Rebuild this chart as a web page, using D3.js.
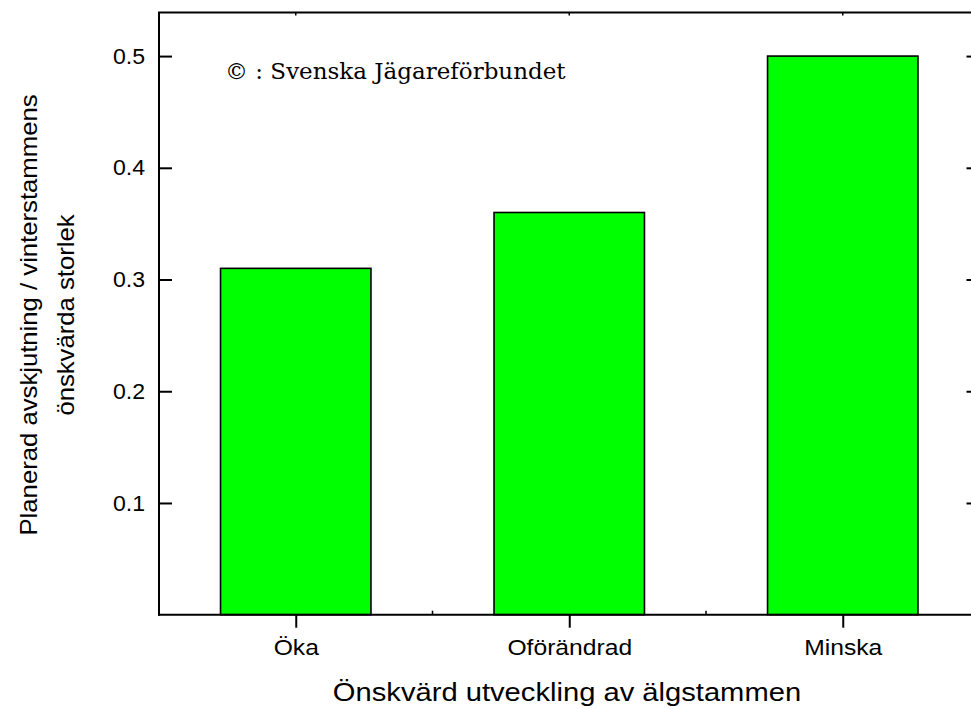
<!DOCTYPE html>
<html><head><meta charset="utf-8">
<script src="https://cdn.jsdelivr.net/npm/d3@7"></script>
<style>body{margin:0;background:#fff}svg{display:block}</style>
</head><body>
<svg id="c" width="971" height="709"></svg>
<script>
const categories = ["Öka", "Oförändrad", "Minska"];
const values = [0.31, 0.36, 0.50];
const yTicks = [0.1, 0.2, 0.3, 0.4, 0.5];
const xTitle = "Önskvärd utveckling av älgstammen";
const yTitle = ["Planerad avskjutning / vinterstammens", "önskvärda storlek"];
const note = "© : Svenska Jägareförbundet";

const SANS = "Liberation Sans, Arial, Helvetica, sans-serif";
const svg = d3.select("#c");
const L = 159, R = 979.5, T = 12.5, B = 614.7;
const x = d3.scaleBand().domain(categories).range([L, R]).paddingInner(0.45).paddingOuter(0.225);
const xc = d3.scalePoint().domain(categories).range([L, R]).padding(0.5);
const y = d3.scaleLinear().domain([0, 0.539]).range([B, T]);

// widen sans text slightly to mimic the reference's Helvetica rendering
function widen(sel, f) {
  sel.each(function () {
    const w = this.getComputedTextLength();
    d3.select(this).attr("textLength", w * f).attr("lengthAdjust", "spacingAndGlyphs");
  });
}

// bars
svg.append("g").selectAll("rect").data(categories).join("rect")
  .attr("x", d => x(d)).attr("width", x.bandwidth())
  .attr("y", (d, i) => y(values[i])).attr("height", (d, i) => B - y(values[i]))
  .attr("fill", "#00ff00").attr("stroke", "#000").attr("stroke-width", 1.6);

// frame
const frame = svg.append("g").attr("stroke", "#000").attr("stroke-width", 2).attr("fill", "none");
frame.append("line").attr("x1", L).attr("x2", L).attr("y1", T).attr("y2", B + 1);
frame.append("line").attr("x1", L - 1).attr("x2", R).attr("y1", B).attr("y2", B);
frame.append("line").attr("x1", L - 1).attr("x2", R).attr("y1", T).attr("y2", T);
frame.append("line").attr("x1", R).attr("x2", R).attr("y1", T).attr("y2", B);

// left axis (inward ticks)
const ya = svg.append("g").attr("transform", `translate(${L},0)`)
  .call(d3.axisRight(y).tickValues(yTicks).tickSize(13).tickFormat(d3.format(".1f")));
ya.select(".domain").remove();
ya.selectAll(".tick line").attr("stroke-width", 2);
ya.selectAll(".tick text").attr("x", -14).attr("text-anchor", "end")
  .attr("font-family", SANS).attr("font-size", 22).attr("fill", "#000");
widen(ya.selectAll(".tick text"), 1.05);

// right axis mirror ticks (inward)
const yr = svg.append("g").attr("transform", `translate(${R},0)`)
  .call(d3.axisLeft(y).tickValues(yTicks).tickSize(13).tickFormat(""));
yr.select(".domain").remove();
yr.selectAll(".tick line").attr("stroke-width", 2);

// bottom axis (outward ticks)
const xa = svg.append("g").attr("transform", `translate(0,${B})`)
  .call(d3.axisBottom(xc).tickSize(13).tickPadding(12));
xa.select(".domain").remove();
xa.selectAll(".tick line").attr("stroke-width", 2);
xa.selectAll(".tick text").attr("font-family", SANS).attr("font-size", 22).attr("fill", "#000");
widen(xa.selectAll(".tick text"), 1.12);

// minor ticks between categories on bottom (small inward)
const step = xc.step();
const mids = categories.slice(1).map(c => xc(c) - step / 2);
svg.append("g").selectAll("line").data(mids).join("line")
  .attr("x1", d => d).attr("x2", d => d).attr("y1", B).attr("y2", B - 4)
  .attr("stroke", "#000").attr("stroke-width", 1.5);

// top small ticks at categories
svg.append("g").selectAll("line").data(categories).join("line")
  .attr("x1", d => xc(d)).attr("x2", d => xc(d)).attr("y1", T).attr("y2", T + 3)
  .attr("stroke", "#000").attr("stroke-width", 1.5);

// titles
const xt = svg.append("text").attr("x", 567).attr("y", 701).attr("text-anchor", "middle")
  .attr("font-family", SANS).attr("font-size", 26.5).attr("fill", "#000").text(xTitle);
widen(xt, 1.1);

const yt = svg.append("text").attr("transform", "translate(0,315) rotate(-90)")
  .attr("text-anchor", "middle").attr("font-family", SANS).attr("font-size", 24).attr("fill", "#000");
yt.append("tspan").attr("x", 0).attr("y", 37).text(yTitle[0]);
yt.append("tspan").attr("x", 0).attr("y", 74).text(yTitle[1]);
widen(yt.selectAll("tspan"), 1.07);

svg.append("text").attr("x", 225).attr("y", 79)
  .attr("font-family", "DejaVu Serif, Liberation Serif, serif").attr("font-size", 23).attr("fill", "#000").text(note);
</script>
</body></html>
